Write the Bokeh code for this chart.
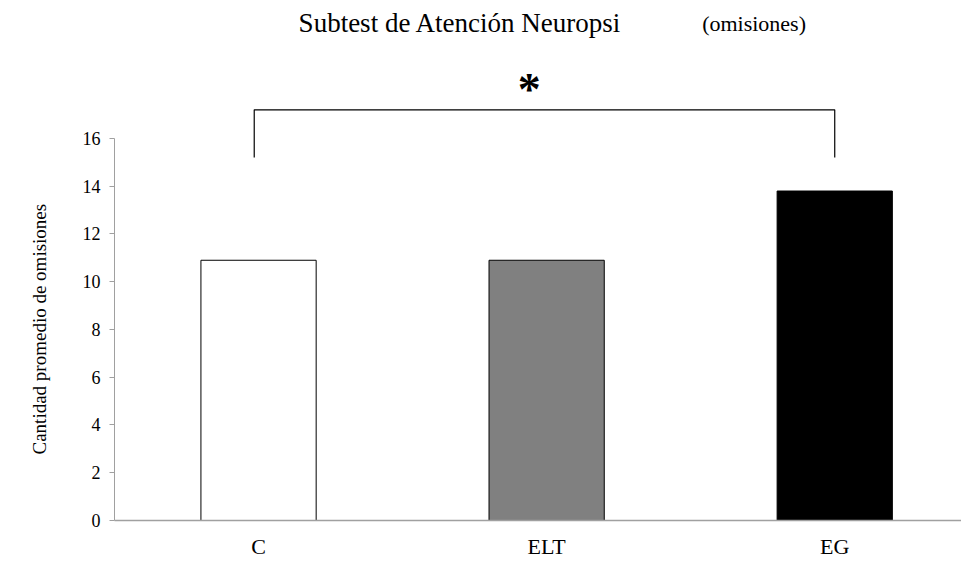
from bokeh.plotting import figure
from bokeh.models import Range1d, FixedTicker, Title, ColumnDataSource
from bokeh.core.properties import value
from bokeh.embed import file_html
from bokeh.resources import INLINE

# ---- data ----
groups = ["C", "ELT", "EG"]
means = [10.9, 10.9, 13.8]
bar_colors = ["#ffffff", "#808080", "#000000"]
y_ticks = [0, 2, 4, 6, 8, 10, 12, 14, 16]
title_main = "Subtest de Atención Neuropsi"
title_sub = "(omisiones)"
y_label = "Cantidad promedio de omisiones"
sig_mark = "*"
sig_pair = (0, 2)  # C vs EG

SERIF = "Liberation Serif"

xpos = [i + 1 for i in range(len(groups))]

p = figure(width=961, height=563, output_backend="svg", toolbar_location=None,
           x_range=Range1d(0.5, 3.44), y_range=Range1d(0, 21.78),
           min_border_left=113, min_border_right=0, min_border_top=0,
           min_border_bottom=43)
p.outline_line_color = None
p.grid.grid_line_color = None
p.background_fill_color = "white"
p.border_fill_color = "white"

src = ColumnDataSource(dict(x=xpos, top=means, color=bar_colors, g=groups))
p.vbar(x="x", top="top", width=0.40, bottom=0, source=src,
       fill_color="color", line_color="black", line_width=1)

# y axis
ya = p.yaxis[0]
ya.bounds = (0, 16)
ya.ticker = FixedTicker(ticks=y_ticks)
ya.minor_tick_line_color = None
ya.major_tick_in = 0
ya.major_tick_out = 5
ya.axis_line_color = "#a0a0a0"
ya.major_tick_line_color = "#a0a0a0"
ya.major_label_text_font = SERIF
ya.major_label_text_font_size = "18px"
ya.major_label_text_color = "black"
ya.major_label_standoff = 9

# x axis
xa = p.xaxis[0]
xa.ticker = FixedTicker(ticks=xpos)
xa.major_label_overrides = {x: g for x, g in zip(xpos, groups)}
xa.minor_tick_line_color = None
xa.major_tick_line_color = None
xa.major_tick_in = 0
xa.major_tick_out = 0
xa.axis_line_color = "#a0a0a0"
xa.axis_line_width = 1.5
xa.major_label_text_font = SERIF
xa.major_label_text_font_size = "22px"
xa.major_label_text_color = "black"
xa.major_label_standoff = 13

# y axis label as a side title, positioned to match the reference
p.add_layout(Title(text=y_label, align="left", offset=66, standoff=56,
                   vertical_align="top",
                   text_font=SERIF, text_font_size="19px",
                   text_font_style="normal", text_color="black"), "left")

# significance bracket
a, b = xpos[sig_pair[0]], xpos[sig_pair[1]]
p.line(x=[a - 0.015, a - 0.015, b, b], y=[15.2, 17.2, 17.2, 15.2],
       line_color="black", line_width=1.2)
p.text(x=[(a + b) / 2 - 0.06], y=[18.05], text=[sig_mark],
       text_font=value(SERIF), text_font_size="46px", text_font_style="bold",
       text_color="black", text_align="center", text_baseline="alphabetic")

# title
p.text(x=[1.70], y=[20.82], text=[title_main], text_font=value(SERIF),
       text_font_size="27px", text_color="black", text_align="center",
       text_baseline="alphabetic")
p.text(x=[2.72], y=[20.82], text=[title_sub], text_font=value(SERIF),
       text_font_size="22px", text_color="black", text_align="center",
       text_baseline="alphabetic")

open("out.html", "w").write(file_html(p, INLINE))
